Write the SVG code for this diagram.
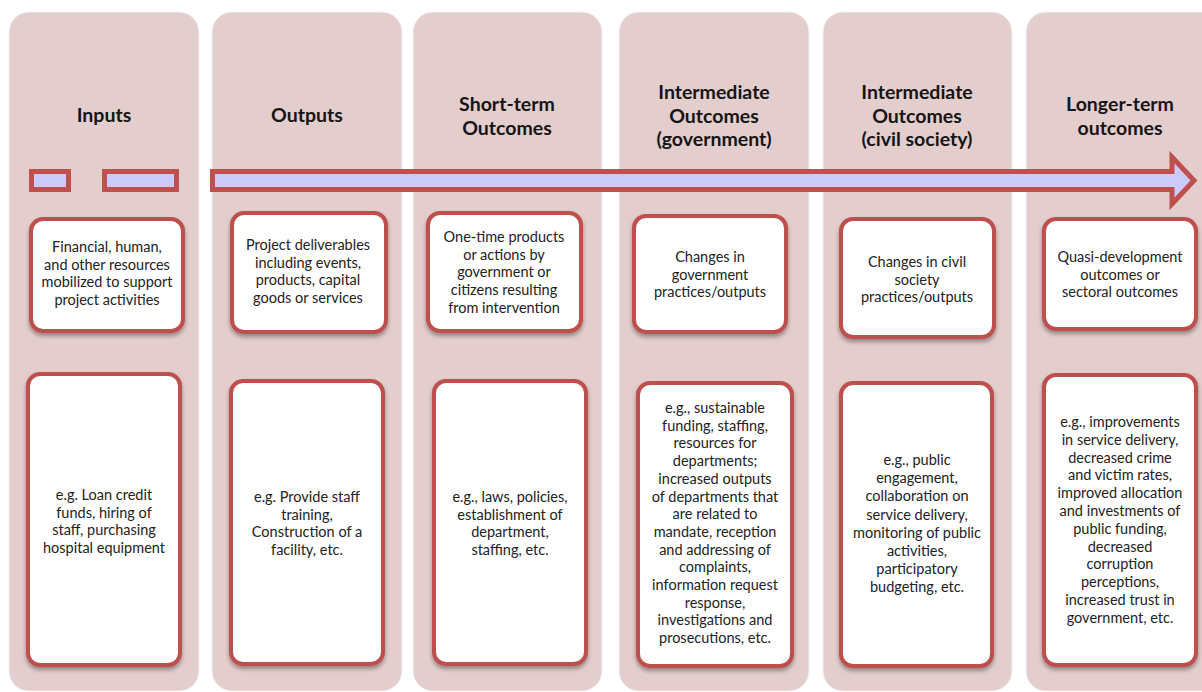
<svg xmlns="http://www.w3.org/2000/svg" width="1202" height="692" viewBox="0 0 1202 692">
<defs>
<filter id="sh" x="-10%" y="-10%" width="120%" height="120%">
<feDropShadow dx="0" dy="3" stdDeviation="2" flood-color="#000" flood-opacity="0.35"/>
</filter>
<style>
.col{fill:#e4cdcd;stroke:#f2f2f2;stroke-width:1}
.box{fill:#fff;stroke:#bd504e;stroke-width:4;filter:url(#sh)}
.hd{font-family:Lato,"Open Sans",sans-serif;font-weight:bold;font-size:19.5px;fill:#151515;text-anchor:middle}
.tx{font-family:Lato,"Open Sans",sans-serif;font-size:14.5px;fill:#222;text-anchor:middle}
.arr{fill:#cbcbfb;stroke:#c0504d;stroke-width:5}
</style>
</defs>
<rect width="1202" height="692" fill="#fff"/>

<g id="col-inputs">
<rect class="col" x="9" y="12" width="190" height="679" rx="20"/>
<text class="hd" x="104" y="122">Inputs</text>
</g>
<g id="col-outputs">
<rect class="col" x="212" y="12" width="190" height="679" rx="20"/>
<text class="hd" x="307" y="122">Outputs</text>
</g>
<g id="col-short">
<rect class="col" x="413" y="12" width="189" height="679" rx="20"/>
<text class="hd" x="507" y="111">Short-term<tspan x="507" dy="24">Outcomes</tspan></text>
</g>
<g id="col-gov">
<rect class="col" x="619" y="12" width="190" height="679" rx="20"/>
<text class="hd" x="714" y="99">Intermediate<tspan x="714" dy="24">Outcomes</tspan><tspan x="714" dy="23">(government)</tspan></text>
</g>
<g id="col-civil">
<rect class="col" x="823" y="12" width="189" height="679" rx="20"/>
<text class="hd" x="917" y="99">Intermediate<tspan x="917" dy="24">Outcomes</tspan><tspan x="917" dy="23">(civil society)</tspan></text>
</g>
<g id="col-longer">
<rect class="col" x="1026" y="12" width="200" height="679" rx="20"/>
<text class="hd" x="1120" y="111">Longer-term<tspan x="1120" dy="24">outcomes</tspan></text>
</g>

<g id="connectors">
<rect class="arr" x="31.5" y="171.5" width="37" height="18"/>
<rect class="arr" x="104.5" y="171.5" width="72" height="18"/>
<path class="arr" d="M212.5,171.5 H1172 V157 L1194,180.5 L1172,204 V189.5 H212.5 Z"/>
</g>

<g id="inputs-desc">
<rect class="box" x="31" y="219" width="152" height="112" rx="12"/>
<text class="tx" x="107" y="252">Financial, human,<tspan x="107" dy="17.7">and other resources</tspan><tspan x="107" dy="17.7">mobilized to support</tspan><tspan x="107" dy="17.7">project activities</tspan></text>
</g>
<g id="outputs-desc">
<rect class="box" x="232" y="213" width="154" height="119" rx="12"/>
<text class="tx" x="308" y="250">Project deliverables<tspan x="308" dy="17.7">including events,</tspan><tspan x="308" dy="17.7">products, capital</tspan><tspan x="308" dy="17.7">goods or services</tspan></text>
</g>
<g id="short-desc">
<rect class="box" x="428" y="213" width="153" height="118" rx="12"/>
<text class="tx" x="504" y="242">One-time products<tspan x="504" dy="17.7">or actions by</tspan><tspan x="504" dy="17.7">government or</tspan><tspan x="504" dy="17.7">citizens resulting</tspan><tspan x="504" dy="17.7">from intervention</tspan></text>
</g>
<g id="gov-desc">
<rect class="box" x="634" y="216" width="152" height="116" rx="12"/>
<text class="tx" x="710" y="262">Changes in<tspan x="710" dy="17.7">government</tspan><tspan x="710" dy="17.7">practices/outputs</tspan></text>
</g>
<g id="civil-desc">
<rect class="box" x="841" y="219" width="153" height="118" rx="12"/>
<text class="tx" x="917" y="267">Changes in civil<tspan x="917" dy="17.7">society</tspan><tspan x="917" dy="17.7">practices/outputs</tspan></text>
</g>
<g id="longer-desc">
<rect class="box" x="1044" y="219" width="152" height="110" rx="12"/>
<text class="tx" x="1120" y="262">Quasi-development<tspan x="1120" dy="17.7">outcomes or</tspan><tspan x="1120" dy="17.7">sectoral outcomes</tspan></text>
</g>

<g id="inputs-example">
<rect class="box" x="28" y="374" width="152" height="291" rx="12"/>
<text class="tx" x="104" y="500">e.g. Loan credit<tspan x="104" dy="17.7">funds, hiring of</tspan><tspan x="104" dy="17.7">staff, purchasing</tspan><tspan x="104" dy="17.7">hospital equipment</tspan></text>
</g>
<g id="outputs-example">
<rect class="box" x="231" y="381" width="152" height="283" rx="12"/>
<text class="tx" x="307" y="502">e.g. Provide  staff<tspan x="307" dy="17.7">training,</tspan><tspan x="307" dy="17.7">Construction of a</tspan><tspan x="307" dy="17.7">facility, etc.</tspan></text>
</g>
<g id="short-example">
<rect class="box" x="434" y="381" width="152" height="283" rx="12"/>
<text class="tx" x="510" y="502">e.g., laws, policies,<tspan x="510" dy="17.7">establishment of</tspan><tspan x="510" dy="17.7">department,</tspan><tspan x="510" dy="17.7">staffing, etc.</tspan></text>
</g>
<g id="gov-example">
<rect class="box" x="638" y="383" width="154" height="283" rx="12"/>
<text class="tx" x="715" y="413">e.g., sustainable<tspan x="715" dy="17.7">funding, staffing,</tspan><tspan x="715" dy="17.7">resources for</tspan><tspan x="715" dy="17.7">departments;</tspan><tspan x="715" dy="17.7">increased outputs</tspan><tspan x="715" dy="17.7">of departments that</tspan><tspan x="715" dy="17.7">are related to</tspan><tspan x="715" dy="17.7">mandate, reception</tspan><tspan x="715" dy="17.7">and addressing of</tspan><tspan x="715" dy="17.7">complaints,</tspan><tspan x="715" dy="17.7">information request</tspan><tspan x="715" dy="17.7">response,</tspan><tspan x="715" dy="17.7">investigations and</tspan><tspan x="715" dy="17.7">prosecutions, etc.</tspan></text>
</g>
<g id="civil-example">
<rect class="box" x="841" y="383" width="151" height="283" rx="12"/>
<text class="tx" x="917" y="465">e.g., public<tspan x="917" dy="18.2">engagement,</tspan><tspan x="917" dy="18.2">collaboration on</tspan><tspan x="917" dy="18.2">service delivery,</tspan><tspan x="917" dy="18.2">monitoring of public</tspan><tspan x="917" dy="18.2">activities,</tspan><tspan x="917" dy="18.2">participatory</tspan><tspan x="917" dy="18.2">budgeting, etc.</tspan></text>
</g>
<g id="longer-example">
<rect class="box" x="1044" y="375" width="152" height="290" rx="12"/>
<text class="tx" x="1120" y="427">e.g., improvements<tspan x="1120" dy="17.8">in service delivery,</tspan><tspan x="1120" dy="17.8">decreased crime</tspan><tspan x="1120" dy="17.8">and victim rates,</tspan><tspan x="1120" dy="17.8">improved allocation</tspan><tspan x="1120" dy="17.8">and investments of</tspan><tspan x="1120" dy="17.8">public funding,</tspan><tspan x="1120" dy="17.8">decreased</tspan><tspan x="1120" dy="17.8">corruption</tspan><tspan x="1120" dy="17.8">perceptions,</tspan><tspan x="1120" dy="17.8">increased trust in</tspan><tspan x="1120" dy="17.8">government, etc.</tspan></text>
</g>
</svg>
